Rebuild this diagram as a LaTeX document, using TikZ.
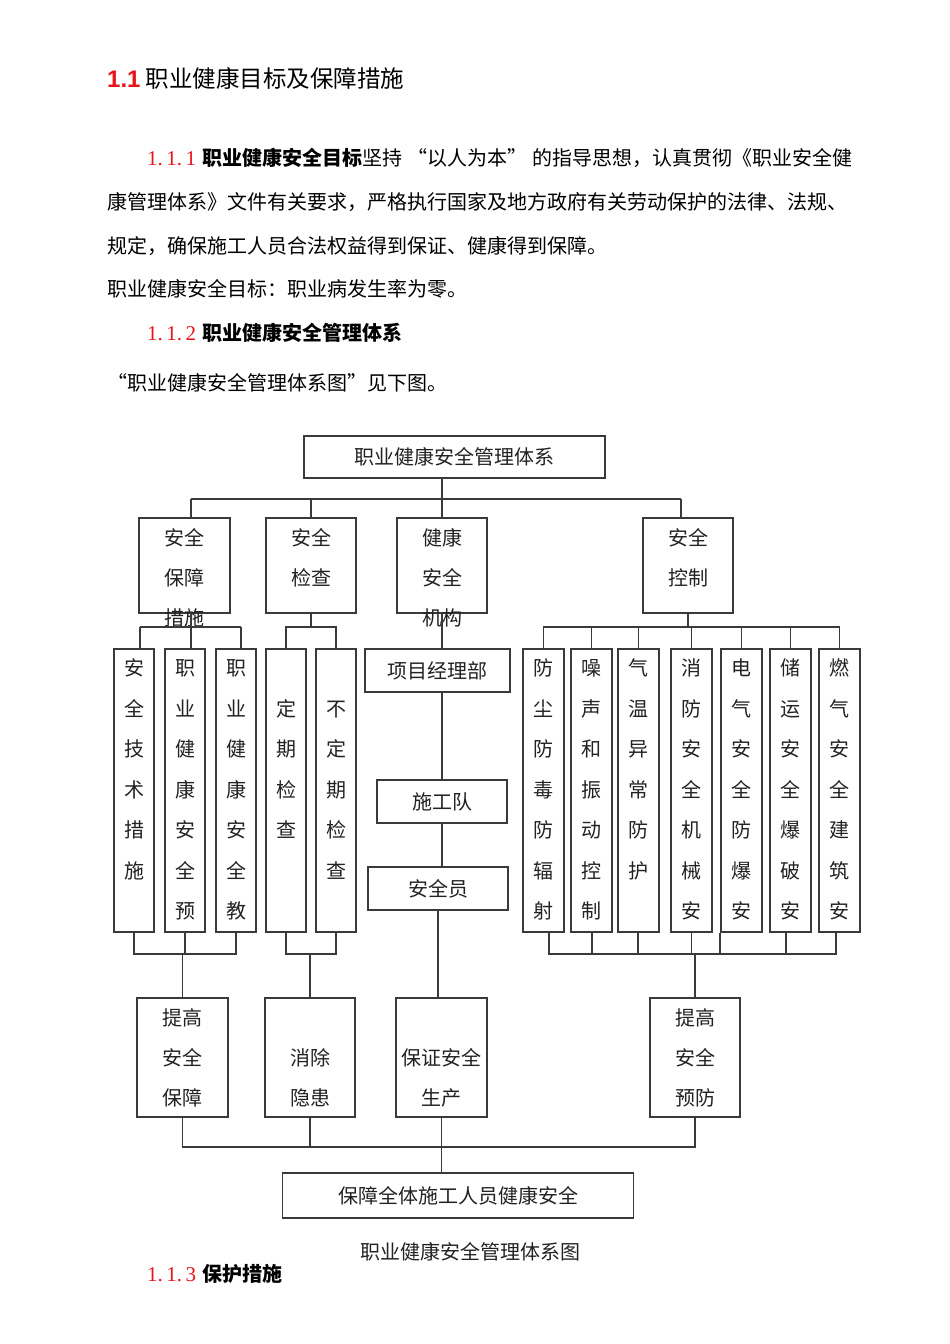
\documentclass[tikz,border=0pt]{standalone}
\usepackage{fontspec}
\usetikzlibrary{calc}
\newfontfamily\cjk{Noto Sans CJK SC}
\newfontfamily\numf{Liberation Serif}
\newfontfamily\arialf{Liberation Sans}
\definecolor{ln}{HTML}{3A3A3A}
\definecolor{txt}{HTML}{222222}
\definecolor{hred}{HTML}{E8141B}
\newcommand\lqq[1][20pt]{\makebox[#1][r]{“}}
\newcommand\rqq[1][20pt]{\makebox[#1][l]{”}}
\newcommand\secnum[1]{\makebox[55pt][l]{\numf\color{hred}\fontsize{21}{21}\selectfont #1}}
\newcommand\vstack[5]{\foreach \c [count=\i from 0] in {#5} {\node[dt] (#1-\i) at (#2,{#3+\i*#4}) {\c};}}
\begin{document}
\begin{tikzpicture}[x=1pt,y=-1pt,
  bx/.style={draw=ln, line width=1.5pt, inner sep=0pt, font=\cjk\fontsize{20}{20}\selectfont, text height=16.6pt, text depth=1.4pt, text=txt},
  dt/.style={inner sep=0pt, font=\cjk\fontsize{20}{20}\selectfont, text height=16.6pt, text depth=1.4pt, text=txt},
  bt/.style={inner sep=0pt, anchor=west, font=\cjk\fontsize{20}{20}\selectfont, text height=16.6pt, text depth=1.4pt, text=black},
  cn/.style={draw=ln, line width=1.5pt},
  nar/.style={bx, minimum width=40pt, minimum height=283pt},
  mid/.style={bx, minimum width=91pt, minimum height=95pt},
  low/.style={bx, minimum width=91pt, minimum height=119pt}]
\useasboundingbox (0,0) rectangle (950,1344);
\fill[white] (0,0) rectangle (950,1344);

% ---------- text above ----------
\node[bt] (title) at (107,80) {{\arialf\bfseries\color{hred}\fontsize{24}{24}\selectfont 1.1}\hspace{5pt}{\fontsize{23.5}{24}\selectfont 职业健康目标及保障措施}};
\node[bt] (p1) at (147,158) {\secnum{1.\,1.\,1}{\bfseries 职业健康安全目标}坚持\lqq[25pt]以人为本\rqq[25pt]的指导思想，认真贯彻《职业安全健};
\node[bt] (p2) at (107,202) {康管理体系》文件有关要求，严格执行国家及地方政府有关劳动保护的法律、法规、};
\node[bt] (p3) at (107,246) {规定，确保施工人员合法权益得到保证、健康得到保障。};
\node[bt] (p4) at (107,289) {职业健康安全目标：职业病发生率为零。};
\node[bt] (p5) at (147,333) {\secnum{1.\,1.\,2}{\bfseries 职业健康安全管理体系}};
\node[bt] (p6) at (107,383) {\lqq 职业健康安全管理体系图\rqq 见下图。};

% ---------- diagram ----------
\node[bx, minimum width=301pt, minimum height=42pt] (T) at (454.5,457) {职业健康安全管理体系};

\node[mid] (A) at (184.5,565.5) {};
\node[mid, minimum width=90pt] (B) at (311,565.5) {};
\node[mid, minimum width=90pt] (C) at (442,565.5) {};
\node[mid, minimum width=90pt] (D) at (688,565.5) {};
\vstack{At}{184.5}{538}{40}{安全,保障,措施}
\vstack{Bt}{311}{538}{40}{安全,检查}
\vstack{Ct}{442}{538}{40}{健康,安全,机构}
\vstack{Dt}{688}{538}{40}{安全,控制}

\coordinate (tl) at (191,499);
\coordinate (tr) at (681,499);
\draw[cn] (tl) -- (tr);
\draw[cn] (tl) -- (tl |- A.north);
\draw[cn] (tr) -- (tr |- D.north);
\draw[cn] (B.north) -- (B.north |- tl);
\draw[cn] (T.south -| C.north) -- (C.north);

% narrow boxes left
\node[nar] (a1) at (134,790.5) {};
\node[nar] (a2) at (185,790.5) {};
\node[nar] (a3) at (236,790.5) {};
\node[nar] (b1) at (286,790.5) {};
\node[nar] (b2) at (336,790.5) {};
\vstack{a1t}{134}{668}{40.5}{安,全,技,术,措,施}
\vstack{a2t}{185}{668}{40.5}{职,业,健,康,安,全,预}
\vstack{a3t}{236}{668}{40.5}{职,业,健,康,安,全,教}
\vstack{b1t}{286}{708.5}{40.5}{定,期,检,查}
\vstack{b2t}{336}{708.5}{40.5}{不,定,期,检,查}

% center column
\node[bx, minimum width=145pt, minimum height=43pt] (P) at (437.5,670.5) {项目经理部};
\node[bx, minimum width=130pt, minimum height=43pt] (S) at (442,801.5) {施工队};
\node[bx, minimum width=140pt, minimum height=43pt] (Y) at (438,888.5) {安全员};

% narrow boxes right
\node[nar, minimum width=41pt] (r1) at (543.5,790.5) {};
\node[nar, minimum width=41pt] (r2) at (591.5,790.5) {};
\node[nar, minimum width=41pt] (r3) at (638.5,790.5) {};
\node[nar, minimum width=41pt] (r4) at (691.5,790.5) {};
\node[nar, minimum width=41pt] (r5) at (741.5,790.5) {};
\node[nar, minimum width=41pt] (r6) at (790.5,790.5) {};
\node[nar, minimum width=41pt] (r7) at (839.5,790.5) {};
\vstack{r1t}{543.5}{668}{40.5}{防,尘,防,毒,防,辐,射}
\vstack{r2t}{591.5}{668}{40.5}{噪,声,和,振,动,控,制}
\vstack{r3t}{638.5}{668}{40.5}{气,温,异,常,防,护}
\vstack{r4t}{691.5}{668}{40.5}{消,防,安,全,机,械,安}
\vstack{r5t}{741.5}{668}{40.5}{电,气,安,全,防,爆,安}
\vstack{r6t}{790.5}{668}{40.5}{储,运,安,全,爆,破,安}
\vstack{r7t}{839.5}{668}{40.5}{燃,气,安,全,建,筑,安}

% upper buses of level 3
\coordinate (ya) at (0,627);
\coordinate (al) at (140,627);
\coordinate (ar) at (241,627);
\coordinate (am) at (191,627);
\draw[cn] (al) -- (ar);
\draw[cn] (al) -- (al |- a1.north);
\draw[cn] (ar) -- (ar |- a3.north);
\draw[cn] (am |- A.south) -- (am |- a2.north);
\draw[cn] (B.south) -- (B.south |- ya);
\draw[cn] (b1.north) |- (ya -| b2.north) -- (b2.north);
\draw[cn] (C.south) -- (C.south |- P.north);
\draw[cn] (P.south -| S.north) -- (S.north);
\draw[cn] (S.south) -- (S.south |- Y.north);
\draw[cn] (D.south) -- (D.south |- ya);
\draw[cn] (r1.north) |- (ya -| r7.north) -- (r7.north);
\foreach \n in {r2,r3,r4,r5,r6} {\draw[cn] (\n.north) -- (\n.north |- ya);}

% lower boxes
\node[low] (G1) at (182.5,1057.5) {};
\node[low, minimum width=90pt] (G2) at (310,1057.5) {};
\node[low] (G3) at (441.5,1057.5) {};
\node[low, minimum width=90pt] (G4) at (695,1057.5) {};
\vstack{G1t}{182.5}{1018}{40}{提高,安全,保障}
\vstack{G2t}{310}{1058}{40}{消除,隐患}
\vstack{G3t}{441.5}{1058}{40}{保证安全,生产}
\vstack{G4t}{695}{1018}{40}{提高,安全,预防}

% lower buses of level 3
\coordinate (yb) at (0,954);
\draw[cn] (a1.south) |- (yb -| a3.south) -- (a3.south);
\draw[cn] (a2.south) -- (a2.south |- yb);
\draw[cn] (G1.north) -- (G1.north |- yb);
\draw[cn] (b1.south) |- (yb -| b2.south) -- (b2.south);
\draw[cn] (G2.north) -- (G2.north |- yb);
\draw[cn] (Y.south) -- (Y.south |- G3.north);
\coordinate (rb1) at ($(r1.south)+(5.5,0)$);
\coordinate (rb2) at ($(r2.south)+(0.5,0)$);
\coordinate (rb3) at ($(r3.south)+(-0.5,0)$);
\coordinate (rb5) at ($(r5.south)+(-21.5,0)$);
\coordinate (rb6) at ($(r6.south)+(-4.5,0)$);
\coordinate (rb7) at ($(r7.south)+(-3.5,0)$);
\draw[cn] (rb1) |- (yb -| rb7) -- (rb7);
\foreach \n in {rb2,rb3,rb5,rb6} {\draw[cn] (\n) -- (\n |- yb);}
\draw[cn] (r4.south) -- (r4.south |- yb);
\draw[cn] (G4.north) -- (G4.north |- yb);

% final
\node[bx, minimum width=351pt, minimum height=45pt] (F) at (458,1195.5) {保障全体施工人员健康安全};
\coordinate (yc) at (0,1147);
\draw[cn] (G1.south) |- (yc -| G4.south) -- (G4.south);
\draw[cn] (G2.south) -- (G2.south |- yc);
\draw[cn] (G3.south) -- (F.north -| G3.south);

% caption and next heading
\node[dt] (cap) at (470,1252) {职业健康安全管理体系图};
\node[bt] (p7) at (147,1274) {\secnum{1.\,1.\,3}{\bfseries 保护措施}};
\end{tikzpicture}
\end{document}
